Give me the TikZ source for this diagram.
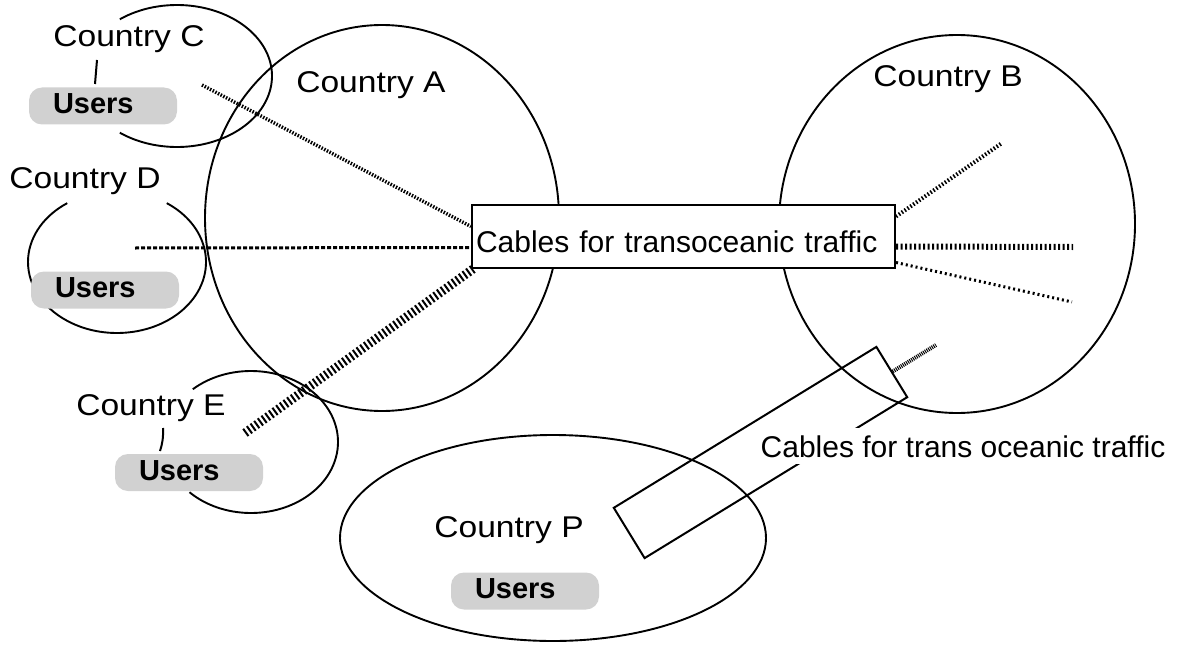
\documentclass[tikz,border=0pt]{standalone}
\usepackage{fontspec}
\setmainfont{Liberation Sans}
\pgfdeclarelayer{bg}
\pgfsetlayers{bg,main}
\begin{document}
\begin{tikzpicture}[x=1pt,y=-1pt,
  region/.style={line width=1.9pt},
  country/.style={anchor=base, fill=white, inner sep=3pt, font=\fontsize{30}{36}\selectfont},
  users/.style={fill=black!18, rounded corners=13pt, inner xsep=24pt, inner ysep=0pt,
    text width=100pt, align=left, minimum height=37pt, text height=15pt, text depth=0pt,
    font=\bfseries\fontsize{29}{35}\selectfont},
  cablebox/.style={draw, fill=white, line width=2pt, inner xsep=4pt, inner ysep=0pt,
    text width=415pt, align=left, minimum height=63pt, text height=31pt, text depth=0pt,
    font=\fontsize{30}{36}\selectfont},
  cablelabel/.style={anchor=base, fill=white, inner sep=7pt, text depth=0pt, font=\fontsize{30}{36}\selectfont},
  duct/.style={draw, line width=2pt, inner sep=0pt, minimum width=308pt, minimum height=59pt},
  tickline/.style={line width=2pt},
  hatchC/.style={line width=3.5pt, dash pattern=on 1.5pt off 1.5pt},
  hatchD/.style={line width=3pt, dash pattern=on 4pt off 2pt},
  hatchE/.style={line width=9pt, dash pattern=on 2pt off 2.5pt},
  hatchUp/.style={line width=4pt, dash pattern=on 1.5pt off 2pt},
  hatchMid/.style={line width=6pt, dash pattern=on 2pt off 2.5pt},
  hatchLow/.style={line width=3pt, dash pattern=on 2pt off 3pt},
  hatchSmall/.style={line width=4pt, dash pattern=on 1pt off 1pt}
]
\useasboundingbox (0,0) rectangle (1177,658);

% nodes
\node[cablebox] (cab) at (683.5,236.5) {Cables for transoceanic traffic};
\node[duct, rotate=31.5] (pcable) at (760.5,452.5) {};
\node[cablelabel] (plabel) at (963,457) {Cables for trans oceanic traffic};

\node[country] (cA) at (371,93) {\scalebox{1.12}[1]{Country A}};
\node[country] (cB) at (948,87) {\scalebox{1.12}[1]{Country B}};
\node[country] (cC) at (129,47) {\scalebox{1.12}[1]{Country C}};
\node[country] (cD) at (85,188) {\scalebox{1.12}[1]{Country D}};
\node[country] (cE) at (151,415) {\scalebox{1.12}[1]{Country E}};
\node[country] (cP) at (509,537) {\scalebox{1.12}[1]{Country P}};

\node[users] (uC) at (103,106) {Users};
\node[users] (uD) at (105,290) {Users};
\node[users] (uE) at (189,472.5) {Users};
\node[users] (uP) at (525,591) {Users};

% free ends of cables
\coordinate (h1s) at (202,85);
\coordinate (h2s) at (135,248);
\coordinate (h3s) at (245,433);
\coordinate (h4e) at (1002,143);
\coordinate (h5e) at (1073,247);
\coordinate (h6e) at (1072,302);
\coordinate (h7e) at (936,345);
\coordinate (tC1) at (97,60);
\coordinate (tC2) at (95,84);
\coordinate (tE1) at (163,428);
\coordinate (tE2) at (160,451);

\begin{pgfonlayer}{bg}
  % countries
  \draw[region] (382,218) ellipse [x radius=177, y radius=193];
  \draw[region] (957,224) ellipse [x radius=178, y radius=189];
  \draw[region] (553,538) ellipse [x radius=213, y radius=103];
  \draw[region] (177,76) ++(233:95 and 71) arc[start angle=233, end angle=487, x radius=95, y radius=71];
  \draw[region] (117,262) ++(-56:89 and 71) arc[start angle=-56, end angle=236, x radius=89, y radius=71];
  \draw[region] (251,442) ++(228:87 and 71) arc[start angle=228, end angle=495, x radius=87, y radius=71];
  % cables
  \draw[hatchC] (h1s) -- ([yshift=10pt]cab.west);
  \draw[hatchD] (h2s) -- ([yshift=-11pt]cab.west);
  \draw[hatchE] (h3s) -- ([xshift=2pt]cab.south west);
  \draw[hatchUp] ([yshift=20pt]cab.east) -- (h4e);
  \draw[hatchMid] ([yshift=-10pt]cab.east) -- (h5e);
  \draw[hatchLow] ([yshift=-26pt]cab.east) -- (h6e);
  \draw[hatchSmall] (pcable.east) -- (h7e);
  % user links
  \draw[tickline] (tC1) -- (tC2);
  \draw[tickline] (tE1) to[bend left=10] (tE2);
\end{pgfonlayer}
\end{tikzpicture}
\end{document}
